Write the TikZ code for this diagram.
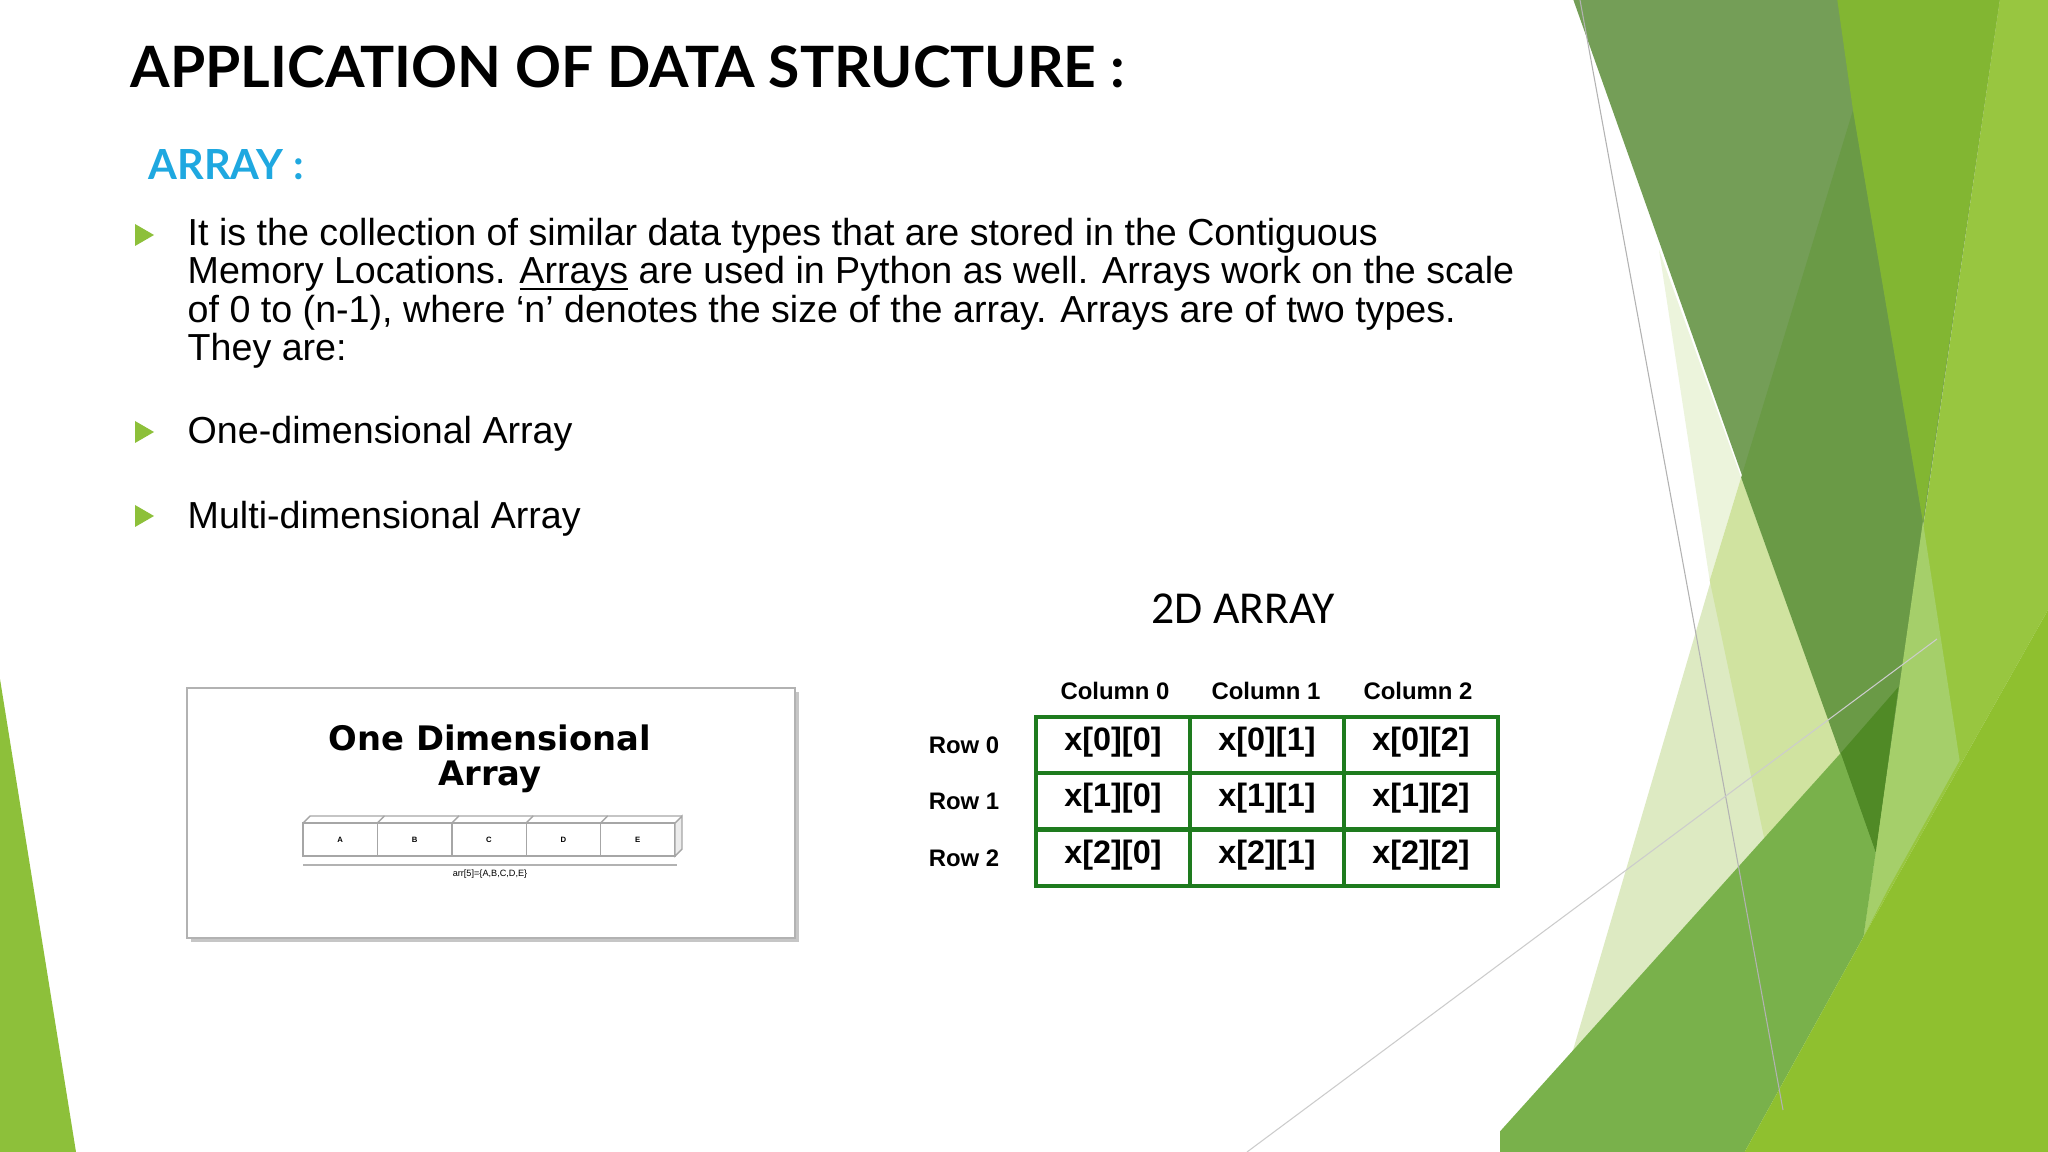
\documentclass[tikz,border=0pt]{standalone}
\usepackage{fontspec}
\setmainfont{Liberation Sans}
\newfontfamily\titlefont{Lato}
\newfontfamily\calfont{Carlito}
\newfontfamily\dejafont{DejaVu Sans}
\begin{document}
\begin{tikzpicture}[x=0.01cm,y=-0.01cm,
  body/.style={anchor=base west,inner sep=0,font=\fontsize{10.7}{12}\selectfont},
  bul/.style={fill=bulletgreen},
  celltxt/.style={font=\fontsize{9.2}{11}\selectfont\bfseries,inner sep=0},
  lab/.style={font=\fontsize{6.8}{8}\selectfont\bfseries,inner sep=0},
  ebox/.style={draw=gray!70,line width=0.4pt,fill=white,inner sep=0,font=\fontsize{2.2}{3}\selectfont\bfseries}]
\definecolor{bulletgreen}{HTML}{8DC03A}
\definecolor{gridgreen}{HTML}{1E7B1E}
\definecolor{cyantitle}{HTML}{1FA8E0}
\useasboundingbox (0,0) rectangle (2048,1152);
\fill[white] (0,0) rectangle (2048,1152);
% decorative green shapes (zoom coords transformed)
\begin{scope}[shift={(1500,0)},xscale=0.3495,yscale=0.7347]
\fill[color={rgb,255:red,221;green,234;blue,194}] (690,650) -- (1075,1160) -- (150,1568) -- (190,1460) -- cycle;
\fill[color={rgb,255:red,236;green,244;blue,220}] (455,340) -- (690,650) -- (600,790) -- cycle;
\fill[color={rgb,255:red,208;green,227;blue,160}] (600,790) -- (690,650) -- (975,1025) -- (760,1150) -- cycle;
\fill[color={rgb,255:red,116;green,158;blue,87}] (210,0) -- (1430,0) -- (1075,1160) -- cycle;
\fill[color={rgb,255:red,106;green,154;blue,70}] (1010,150) -- (1210,710) -- (1075,1160) -- (690,650) -- cycle;
\fill[color={rgb,255:red,130;green,182;blue,50}] (965,0) -- (1430,0) -- (1210,710) -- (1010,150) -- cycle;
\fill[color={rgb,255:red,152;green,198;blue,64}] (1430,0) -- (1568,0) -- (1568,830) -- (1040,1275) -- cycle;
\fill[color={rgb,255:red,165;green,207;blue,106}] (1210,710) -- (1315,1035) -- (1110,1210) -- (1040,1275) -- cycle;
\fill[color={rgb,255:red,121;green,177;blue,75}] (0,1540) -- (975,1025) -- (1075,1160) -- (1040,1275) -- (700,1568) -- (0,1568) -- cycle;
\fill[color={rgb,255:red,80;green,138;blue,38}] (975,1025) -- (1140,935) -- (1075,1160) -- cycle;
\fill[color={rgb,255:red,143;green,192;blue,47}] (700,1568) -- (1040,1275) -- (1568,830) -- (1568,1568) -- cycle;
\end{scope}
\fill[bulletgreen] (0,679) -- (76,1152) -- (0,1152) -- cycle;
\draw[gray!60,line width=0.3pt] (1580,0) -- (1783,1110);
\draw[gray!40,line width=0.3pt] (1247,1152) -- (1937,639);
% titles
\node[anchor=base west,inner sep=0,font=\titlefont\bfseries\fontsize{16.2}{20}\selectfont] (title) at (130,88) {APPLICATION OF DATA STRUCTURE :};
\node[anchor=base west,inner sep=0,text=cyantitle,font=\titlefont\bfseries\fontsize{11.8}{14}\selectfont] (arr) at (148,180) {ARRAY :};
% bullets
\fill[bul] (135,224) -- (154,235) -- (135,246) -- cycle;
\fill[bul] (135,421) -- (154,432) -- (135,443) -- cycle;
\fill[bul] (135,505) -- (154,516) -- (135,527) -- cycle;
\node[body] (l1) at (187,246) {It is the collection of similar data types that are stored in the Contiguous};
\node[body] (l2) at (187,284) {Memory Locations. \underline{\smash{Arrays}} are used in Python as well. Arrays work on the scale};
\node[body] (l3) at (187,323) {of 0 to (n-1), where ‘n’ denotes the size of the array. Arrays are of two types.};
\node[body] (l4) at (187,361) {They are:};
\node[body] (b2) at (187,444) {One-dimensional Array};
\node[body] (b3) at (187,528) {Multi-dimensional Array};
% 1D box
\fill[gray!45] (191,692) rectangle (799,942);
\draw[gray!60,fill=white,line width=0.4pt] (187,688) rectangle (795,938);
\node[font=\dejafont\bfseries\fontsize{9.6}{10}\selectfont,align=center,inner sep=0] (odt) at (490,759) {One Dimensional\\Array};
\foreach \i/\t in {0/A,1/B,2/C,3/D,4/E}{
  \node[ebox,minimum width=74.4*0.01cm,minimum height=33*0.01cm] (e\i) at (303+74.4*\i+37.2,839.5) {\t};
  \draw[gray!70,line width=0.4pt] (303+74.4*\i,823) -- (303+74.4*\i+7,816) -- (303+74.4*\i+81.4,816);
}
\draw[gray!70,fill=gray!15,line width=0.4pt] (675,823) -- (682,816) -- (682,849) -- (675,856) -- cycle;
\draw[gray!60,line width=0.4pt] (303,865) -- (677,865);
\node[font=\fontsize{2.6}{3}\selectfont,inner sep=0] (alab) at (490,874) {arr[5]=\{A,B,C,D,E\}};
% 2D array
\node[font=\calfont\fontsize{13}{15}\selectfont,inner sep=0] (t2d) at (1243,609) {2D ARRAY};
\foreach \c/\x in {0/1115,1/1266,2/1418}{\node[lab] (c\c) at (\x,691) {Column \c};}
\foreach \r/\y in {0/745,1/801,2/858}{\node[lab] (r\r) at (964,\y) {Row \r};}
\foreach \r/\y in {0/745,1/801,2/858}{
  \foreach \c/\x in {0/1113,1/1267,2/1421}{
    \draw[gridgreen,line width=1.2pt] (\x-77,\y-28) rectangle (\x+77,\y+28);
    \node[celltxt] (x\r\c) at (\x,\y-3) {x[\r][\c]};
  }}
\end{tikzpicture}
\end{document}
